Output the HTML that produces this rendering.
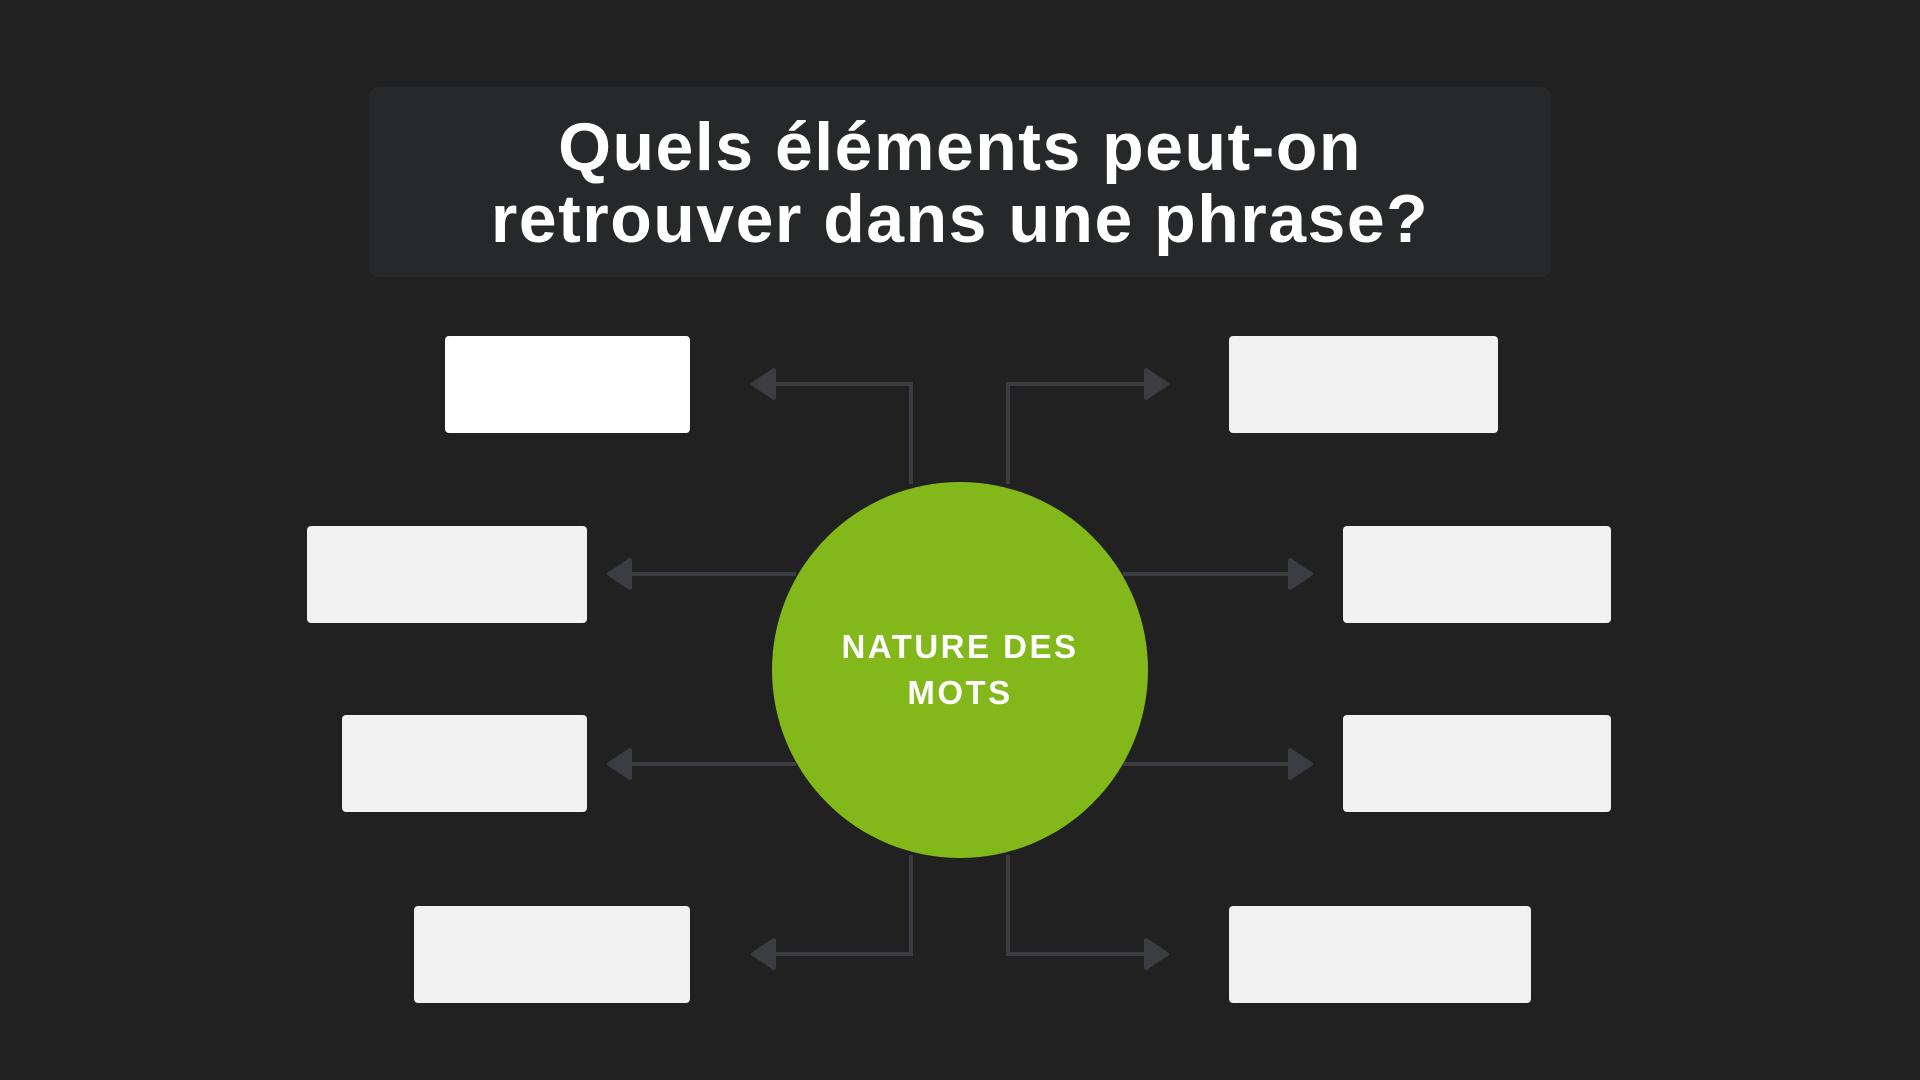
<!DOCTYPE html>
<html><head><meta charset="utf-8"><style>
html,body{margin:0;padding:0;background:#212121;width:1920px;height:1080px;overflow:hidden}
.t{position:absolute;left:369px;top:87px;width:1182px;height:190px;background:#27282a;border-radius:10px}
.b{position:absolute;background:#f1f1f1;border-radius:4px}
.c{position:absolute;left:772px;top:482px;width:376px;height:376px;border-radius:50%;background:#82b81a;color:#fff;font:bold 33px/46px "Liberation Sans",sans-serif;letter-spacing:2.5px;text-align:center;display:flex;align-items:center;justify-content:center}
</style></head><body>
<div class="t"></div>
<div style="position:absolute;left:369px;top:111px;width:1182px;color:#fff;font:bold 68px/72px 'Liberation Sans',sans-serif;letter-spacing:1.5px;text-align:center">Quels éléments peut-on<br>retrouver dans une phrase?</div>
<svg style="position:absolute;left:0;top:0" width="1920" height="1080">
<g stroke="#3c3d42" stroke-width="4" fill="none">
<polyline points="911,484 911,384 770,384"/>
<polyline points="1008,484 1008,384 1150,384"/>
<polyline points="796,574 625,574"/>
<polyline points="1123,574 1295,574"/>
<polyline points="796,764 625,764"/>
<polyline points="1123,764 1295,764"/>
<polyline points="911,855 911,954 770,954"/>
<polyline points="1008,855 1008,954 1150,954"/>
</g>
<g fill="#3c3d42" stroke="#3c3d42" stroke-width="4" stroke-linejoin="round">
<polygon points="753,384 774,370 774,398"/>
<polygon points="1167,384 1146,370 1146,398"/>
<polygon points="609,574 630,560 630,588"/>
<polygon points="1311,574 1290,560 1290,588"/>
<polygon points="609,764 630,750 630,778"/>
<polygon points="1311,764 1290,750 1290,778"/>
<polygon points="753,954 774,940 774,968"/>
<polygon points="1167,954 1146,940 1146,968"/>
</g>
</svg>
<div class="b" style="left:445px;top:336px;width:245px;height:97px;background:#fff"></div>
<div class="b" style="left:307px;top:526px;width:280px;height:97px"></div>
<div class="b" style="left:342px;top:715px;width:245px;height:97px"></div>
<div class="b" style="left:414px;top:906px;width:276px;height:97px"></div>
<div class="b" style="left:1229px;top:336px;width:269px;height:97px"></div>
<div class="b" style="left:1343px;top:526px;width:268px;height:97px"></div>
<div class="b" style="left:1343px;top:715px;width:268px;height:97px"></div>
<div class="b" style="left:1229px;top:906px;width:302px;height:97px"></div>
<div class="c"><div>NATURE DES<br>MOTS</div></div>
</body></html>
